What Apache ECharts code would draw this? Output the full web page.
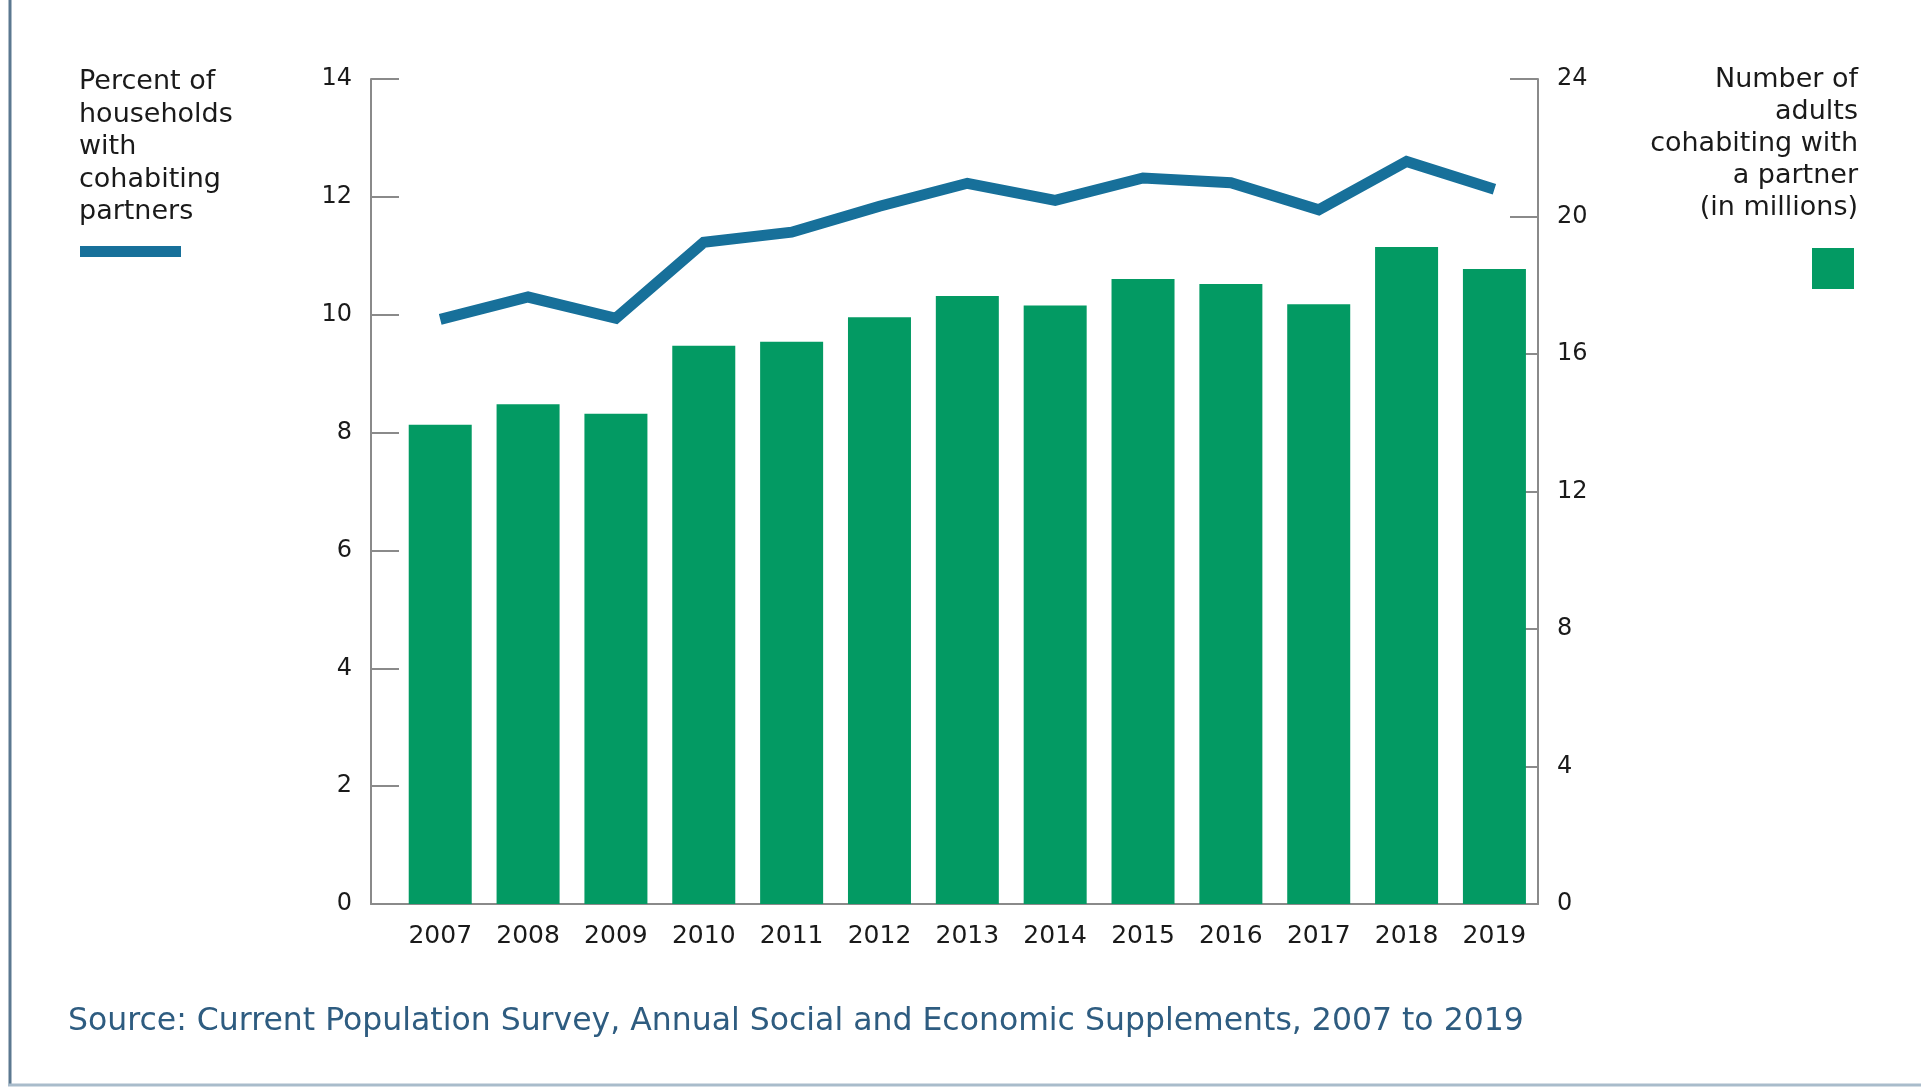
<!DOCTYPE html>
<html>
<head>
<meta charset="utf-8">
<title>Cohabiting partners, 2007 to 2019</title>
<script src="https://cdn.jsdelivr.net/npm/echarts@6/dist/echarts.min.js"></script>
<style>
  html, body { margin: 0; padding: 0; background: #ffffff; }
  #chart { width: 1921px; height: 1087px; }
</style>
</head>
<body>
<div id="chart"></div>
<script>
// Survey years shown along the bottom axis
const years = [2007, 2008, 2009, 2010, 2011, 2012, 2013, 2014, 2015, 2016, 2017, 2018, 2019];

// Percent of households with cohabiting partners (left axis, line)
const householdsPct = [9.92, 10.30, 9.94, 11.23, 11.40, 11.84, 12.23, 11.94, 12.32, 12.24, 11.78, 12.60, 12.13];

// Number of adults cohabiting with a partner, in millions (right axis, bars)
const adultsMillions = [13.94, 14.54, 14.26, 16.24, 16.36, 17.07, 17.69, 17.41, 18.18, 18.04, 17.45, 19.11, 18.47];

// Legend / note texts
const leftLegendText = 'Percent of\nhouseholds\nwith\ncohabiting\npartners';
const rightLegendText = 'Number of\nadults\ncohabiting with\na partner\n(in millions)';
const sourceText = 'Source: Current Population Survey, Annual Social and Economic Supplements, 2007 to 2019';

const FONT = '"DejaVu Sans", sans-serif';
const LINE_BLUE = '#17709a';
const BAR_GREEN = '#039a63';
const AXIS_GREY = '#8a8a8a';
const TEXT_DARK = '#1a1a1a';

const chart = echarts.init(document.getElementById('chart'), null, { renderer: 'canvas' });

const yAxisCommon = {
  type: 'value',
  min: 0,
  splitLine: { show: false },
  axisLine: { show: true, lineStyle: { color: AXIS_GREY, width: 2 } },
  axisTick: { show: true, inside: true, length: 28, lineStyle: { color: AXIS_GREY, width: 2 } },
  axisLabel: { color: TEXT_DARK, fontFamily: FONT, fontSize: 24, margin: 19 }
};

chart.setOption({
  animation: false,
  backgroundColor: '#ffffff',
  grid: { left: 371, right: 383, top: 79, bottom: 183, containLabel: false },
  xAxis: {
    type: 'value',
    min: 2006.212,
    max: 2019.496,
    splitLine: { show: false },
    axisLine: { show: true, onZero: false, lineStyle: { color: AXIS_GREY, width: 2 } },
    axisTick: { show: false },
    axisLabel: {
      customValues: years,
      formatter: v => String(v),
      color: TEXT_DARK,
      fontFamily: FONT,
      fontSize: 25,
      margin: 20
    }
  },
  yAxis: [
    Object.assign({}, yAxisCommon, { position: 'left', max: 14, interval: 2 }),
    Object.assign({}, yAxisCommon, { position: 'right', max: 24, interval: 4 })
  ],
  series: [
    {
      name: 'Number of adults cohabiting with a partner (in millions)',
      type: 'bar',
      yAxisIndex: 1,
      barWidth: 63,
      itemStyle: { color: BAR_GREEN },
      data: years.map((y, i) => [y, adultsMillions[i]]),
      z: 2
    },
    {
      name: 'Percent of households with cohabiting partners',
      type: 'line',
      yAxisIndex: 0,
      showSymbol: false,
      symbol: 'none',
      lineStyle: { color: LINE_BLUE, width: 11, join: 'miter', cap: 'butt' },
      data: years.map((y, i) => [y, householdsPct[i]]),
      z: 3
    }
  ],
  graphic: [
    // left frame rule
    { type: 'line', shape: { x1: 10, y1: 0, x2: 10, y2: 1084 },
      style: { stroke: '#5b7890', lineWidth: 3 } },
    // bottom frame rule
    { type: 'line', shape: { x1: 8, y1: 1085, x2: 1921, y2: 1085 },
      style: { stroke: '#a9bccb', lineWidth: 3 } },
    // left legend
    { type: 'text', x: 79, y: 66,
      style: { text: leftLegendText, fill: TEXT_DARK, font: '27px ' + FONT, lineHeight: 32.5,
               align: 'left', verticalAlign: 'top' } },
    { type: 'rect', shape: { x: 80, y: 246, width: 101, height: 11 },
      style: { fill: LINE_BLUE } },
    // right legend, right-aligned block
    { type: 'text', x: 1858, y: 64,
      style: { text: rightLegendText, fill: TEXT_DARK, font: '27px ' + FONT, lineHeight: 32,
               align: 'right', verticalAlign: 'top' } },
    { type: 'rect', shape: { x: 1812, y: 248, width: 42, height: 41 },
      style: { fill: BAR_GREEN } },
    // source note
    { type: 'text', x: 68, y: 1022,
      style: { text: sourceText, fill: '#2e5c80', font: '31.5px ' + FONT,
               align: 'left', verticalAlign: 'middle' } }
  ]
});
</script>
</body>
</html>
